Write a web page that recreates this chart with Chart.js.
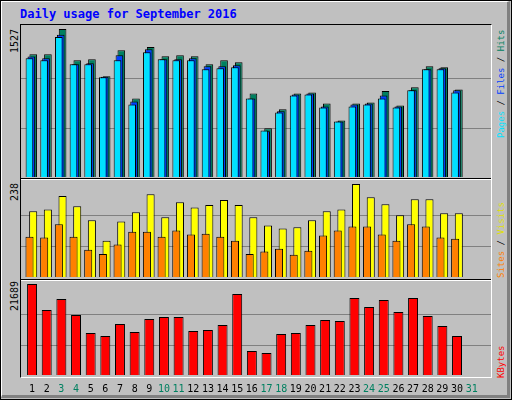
<!DOCTYPE html>
<html>
<head>
<meta charset="utf-8">
<script src="https://cdn.jsdelivr.net/npm/chart.js@4"></script>
<style>
  body { margin: 0; background: #c0c0c0; }
  #page { position: relative; width: 512px; height: 400px; overflow: hidden; background: #c0c0c0; font-family: "DejaVu Sans Mono", monospace; }
  #outer { position: absolute; left: 0; top: 0; width: 510px; height: 398px; border: 1px solid #000; }
  #bevel { position: absolute; left: 1px; top: 1px; width: 505px; height: 393px; border-top: 1px solid #fff; border-left: 1px solid #fff; border-right: 3px solid #808080; border-bottom: 3px solid #808080; }
  #frame { position: absolute; left: 20px; top: 24px; width: 470px; height: 352px; border-top: 1px solid #000; border-left: 1px solid #000; border-right: 1px solid #fff; border-bottom: 1px solid #fff; }
  .sep { position: absolute; left: 21px; width: 470px; height: 1px; }
  canvas { position: absolute; }
  .title { position: absolute; left: 20px; top: 7px; color: #0000ff; font-weight: bold; font-size: 12px; }
  .vt { position: absolute; transform-origin: 0 0; transform: rotate(-90deg); white-space: nowrap; font-size: 10px; line-height: 12px; }
</style>
</head>
<body>
<div id="page">
  <div id="outer"></div>
  <div id="bevel"></div>
  <div id="frame"></div>
  <div class="sep" style="top:178px;background:#000"></div>
  <div class="sep" style="top:179px;background:#fff"></div>
  <div class="sep" style="top:279px;background:#000"></div>
  <div class="sep" style="top:280px;background:#fff"></div>
  <div class="title">Daily usage for September 2016</div>

  <div class="vt" style="left:9px;top:53px;color:#000">1527</div>
  <div class="vt" style="left:9px;top:201px;color:#000">238</div>
  <div class="vt" style="left:9px;top:311px;color:#000">21689</div>

  <div class="vt" style="left:495px;top:138px;font-size:9px"><span style="color:#00e0ff">Pages</span> / <span style="color:#0040ff">Files</span> / <span style="color:#008060">Hits</span></div>
  <div class="vt" style="left:495px;top:278px;font-size:9px"><span style="color:#ff8000">Sites</span> / <span style="color:#e0e000">Visits</span></div>
  <div class="vt" style="left:495px;top:378px;font-size:9px;color:#ff0000">KBytes</div>

  <canvas id="c1" style="left:21px;top:29px" width="470" height="148"></canvas>
  <canvas id="c2" style="left:21px;top:184px" width="470" height="93"></canvas>
  <canvas id="c3" style="left:21px;top:284px" width="470" height="119"></canvas>
</div>
<script>
// dias do mês (31 sem dados)
var days = [];
for (var d = 1; d <= 31; d++) days.push(String(d));
var weekend = [3, 4, 10, 11, 17, 18, 24, 25, 31];

var hits = [1267, 1267, 1527, 1205, 1215, 1040, 1309, 811, 1340, 1247, 1257, 1247, 1164, 1205, 1185,
            862, 503, 700, 862, 873, 759, 583, 759, 769, 887, 738, 925, 1143, 1133, 904, null];
var files = [1242, 1226, 1467, 1164, 1174, 1035, 1257, 779, 1319, 1216, 1216, 1226, 1143, 1143, 1154,
             811, 472, 679, 852, 862, 728, 572, 749, 759, 842, 728, 894, 1112, 1122, 894, null];
var pages = [1226, 1205, 1444, 1164, 1164, 1029, 1205, 749, 1288, 1216, 1205, 1205, 1112, 1122, 1133,
             811, 479, 666, 842, 852, 718, 572, 728, 749, 811, 718, 894, 1112, 1112, 873, null];
var visits = [168, 173, 207, 181, 145, 93, 142, 166, 212, 153, 191, 178, 184, 197, 184,
              153, 132, 124, 127, 145, 168, 173, 238, 204, 186, 158, 199, 199, 163, 163, null];
var sites = [103, 101, 135, 103, 70, 59, 83, 116, 116, 103, 119, 109, 111, 103, 93,
             59, 65, 72, 57, 67, 106, 119, 129, 129, 109, 93, 135, 129, 101, 98, null];
var kbytes = [21689, 15493, 18115, 14301, 10011, 9296, 12156, 10250, 13348, 13824, 13824, 10487, 10726, 11918, 19306,
              5720, 5244, 9772, 10011, 11918, 13109, 12871, 18353, 16208, 17876, 15016, 18353, 14063, 11679, 9296, null];

var hitsGrid = [509, 1018];
var visitsGrid = [79, 159];
var kbytesGrid = [7230, 14460];

// linhas de grade cruzando toda a largura do painel
var gridPlugin = {
    id: 'fullGrid',
    beforeDatasetsDraw: function (chart, args, opts) {
        var ctx = chart.ctx, y = chart.scales.y;
        ctx.save();
        ctx.strokeStyle = '#808080';
        ctx.lineWidth = 1;
        opts.values.forEach(function (v) {
            var py = Math.round(y.getPixelForValue(v)) + 0.5;
            ctx.beginPath();
            ctx.moveTo(0, py);
            ctx.lineTo(chart.width, py);
            ctx.stroke();
        });
        ctx.restore();
    }
};

function bar(data, color, order, cp, bp) {
    return {
        data: data, backgroundColor: color, borderColor: '#000', borderWidth: 1,
        order: order, categoryPercentage: cp, barPercentage: bp, borderSkipped: 'bottom'
    };
}

function makeChart(id, datasets, max, grid, showX) {
    return new Chart(document.getElementById(id), {
        type: 'bar',
        data: { labels: days, datasets: datasets },
        options: {
            responsive: false,
            animation: false,
            layout: { padding: { left: 3, right: 12, top: 0, bottom: 0 } },
            plugins: { legend: { display: false }, tooltip: { enabled: false }, fullGrid: { values: grid } },
            scales: {
                y: { display: false, min: 0, max: max },
                x: {
                    display: showX,
                    grid: { display: false, drawTicks: false },
                    border: { display: false },
                    ticks: {
                        padding: 8, maxRotation: 0, autoSkip: false,
                        font: { family: 'DejaVu Sans Mono', size: 10 },
                        color: function (c) { return weekend.indexOf(c.index + 1) >= 0 ? '#008060' : '#000'; }
                    }
                }
            }
        },
        plugins: [gridPlugin]
    });
}

// ordem invertida no array para que Hits fique à esquerda
makeChart('c1', [
    bar(pages, '#00e0ff', 1, 0.39, 4),
    bar(files, '#0040ff', 2, 0.39, 4),
    bar(hits, '#008060', 3, 0.39, 4)
], 1527, hitsGrid, false);

makeChart('c2', [
    bar(sites, '#ff8000', 1, 0.5, 2.2),
    bar(visits, '#ffff00', 2, 0.5, 2.2)
], 238, visitsGrid, false);

makeChart('c3', [
    bar(kbytes, '#ff0000', 1, 0.68, 1)
], 21689, kbytesGrid, true);
</script>
</body>
</html>
